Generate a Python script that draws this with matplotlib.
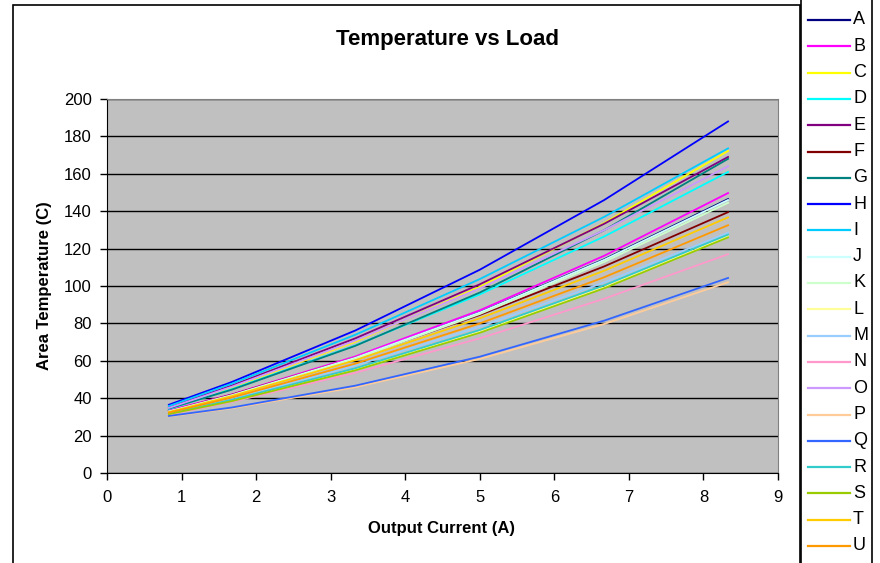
import matplotlib
matplotlib.use("Agg")
import matplotlib.pyplot as plt
from matplotlib.lines import Line2D
from matplotlib.patches import Rectangle

plt.rcParams['font.family'] = ['Liberation Sans', 'DejaVu Sans']

# output current (A)
current = [0.83, 1.67, 3.33, 5.0, 6.67, 8.33]

names = ['A', 'B', 'C', 'D', 'E', 'F', 'G', 'H', 'I', 'J', 'K',
         'L', 'M', 'N', 'O', 'P', 'Q', 'R', 'S', 'T', 'U']
colors = ['#000080', '#FF00FF', '#FFFF00', '#00FFFF', '#800080', '#800000',
          '#008080', '#0000FF', '#00CCFF', '#CCFFFF', '#CCFFCC', '#FFFF99',
          '#99CCFF', '#FF99CC', '#CC99FF', '#FFCC99', '#3366FF', '#33CCCC',
          '#99CC00', '#FFCC00', '#FF9900']

# area temperature (C), one list per series
A = [33.2, 41.8, 61.8, 86.0, 114.3, 146.5]
B = [33.5, 42.0, 62.3, 87.0, 116.2, 149.7]
C = [35.0, 45.7, 70.2, 99.6, 133.7, 172.2]
D = [34.3, 44.8, 68.2, 95.5, 126.5, 161.0]
E = [35.2, 46.7, 72.0, 100.9, 133.3, 169.0]
F = [33.0, 41.8, 61.6, 84.5, 110.5, 139.5]
G = [34.5, 44.5, 68.0, 96.5, 129.9, 168.0]
H = [36.5, 48.6, 76.2, 108.7, 146.0, 188.0]
I = [35.8, 47.7, 73.9, 103.7, 137.0, 173.6]
J = [33.0, 41.6, 61.6, 85.8, 114.0, 146.0]
K = [32.8, 41.3, 61.1, 85.0, 112.9, 144.5]
L = [31.6, 38.7, 55.2, 75.5, 99.3, 126.5]
M = [32.0, 39.8, 57.5, 78.2, 101.9, 128.5]
N = [31.2, 38.0, 53.6, 72.0, 93.2, 117.0]
O = [34.8, 46.1, 70.8, 98.8, 129.9, 164.0]
P = [30.3, 34.6, 45.9, 61.0, 79.7, 102.0]
Q = [30.5, 35.0, 46.7, 62.2, 81.5, 104.3]
R = [31.8, 39.1, 56.0, 76.5, 100.4, 127.5]
S = [31.5, 38.4, 54.9, 75.0, 98.8, 126.0]
T = [32.6, 41.1, 60.3, 82.7, 108.2, 136.7]
U = [32.3, 40.3, 58.5, 80.0, 104.7, 132.5]
series = [A, B, C, D, E, F, G, H, I, J, K, L, M, N, O, P, Q, R, S, T, U]

W, Hpx = 880, 563
fig = plt.figure(figsize=(W / 100, Hpx / 100), dpi=100)

# chart area border
fig.patches.append(Rectangle((13 / W, -0.01), (800 - 13) / W, 1 - 5 / Hpx + 0.01,
                             transform=fig.transFigure, fill=False,
                             edgecolor='black', lw=1.2))

ax = fig.add_axes([107 / W, 1 - 473 / Hpx, (778 - 107) / W, (473 - 99) / Hpx])
ax.set_facecolor('#C0C0C0')
for s, c in zip(series, colors):
    ax.plot(current, s, color=c, lw=1.3)

ax.set_xlim(0, 9)
ax.set_ylim(0, 200)
ax.set_xticks(range(0, 10))
ax.set_yticks(range(0, 201, 20))
ax.yaxis.grid(True, color='black', lw=1)
ax.set_axisbelow(True)
ax.tick_params(direction='out', length=5, width=1, labelsize=12, color='black')
ax.tick_params(axis='y', pad=6)
ax.tick_params(axis='x', pad=7)
ax.spines['top'].set_color('#808080')
ax.spines['right'].set_color('#808080')
ax.spines['left'].set_color('black')
ax.spines['bottom'].set_color('black')

fig.text(447 / W, 1 - 40 / Hpx, 'Temperature vs Load', ha='center', va='center',
         fontsize=16, fontweight='bold')
fig.text(441 / W, 1 - 528 / Hpx, 'Output Current (A)', ha='center', va='center',
         fontsize=12, fontweight='bold')
fig.text(45 / W, 1 - 286 / Hpx, 'Area Temperature (C)', ha='center', va='center',
         rotation=90, fontsize=12, fontweight='bold')

# legend box
fig.patches.append(Rectangle((801 / W, -0.01), (872 - 801) / W, 1.02,
                             transform=fig.transFigure, facecolor='white',
                             edgecolor='black', lw=1.2, zorder=5))
for i, (n, c) in enumerate(zip(names, colors)):
    yy = 1 - (20 + i * 26.3) / Hpx
    fig.lines.append(Line2D([808 / W, 850 / W], [yy, yy], transform=fig.transFigure,
                            color=c, lw=1.6, zorder=6))
    fig.text(853 / W, yy, n, ha='left', va='center', fontsize=13, zorder=6)

fig.savefig('out.png', dpi=100)
